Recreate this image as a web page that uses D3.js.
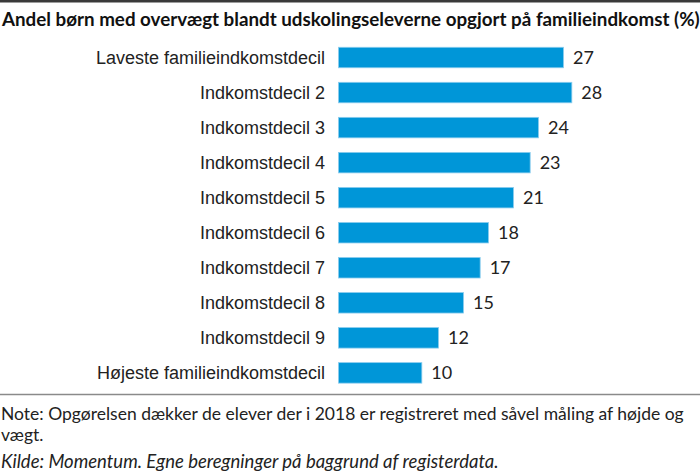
<!DOCTYPE html>
<html>
<head>
<meta charset="utf-8">
<script src="https://cdn.jsdelivr.net/npm/d3@7"></script>
<style>
  body { margin: 0; background: #fff; }
  svg { display: block; font-family: Lato, "Open Sans", sans-serif; }
  .cat { font-size: 18px; fill: #222; }
  .val { font-size: 18px; fill: #222; }
  .title { font-size: 18.8px; font-weight: bold; fill: #111; }
  .note { font-size: 17.5px; fill: #222; }
  .source { font-size: 18.5px; font-style: italic; fill: #222; }
</style>
</head>
<body>
<svg id="chart"></svg>
<script>
// chart data
const categories = [
  "Laveste familieindkomstdecil",
  "Indkomstdecil 2",
  "Indkomstdecil 3",
  "Indkomstdecil 4",
  "Indkomstdecil 5",
  "Indkomstdecil 6",
  "Indkomstdecil 7",
  "Indkomstdecil 8",
  "Indkomstdecil 9",
  "Højeste familieindkomstdecil"
];
const values = [27, 28, 24, 23, 21, 18, 17, 15, 12, 10];

const titleText = "Andel børn med overvægt blandt udskolingseleverne opgjort på familieindkomst (%)";
const noteLines = [
  "Note: Opgørelsen dækker de elever der i 2018 er registreret med såvel måling af højde og",
  "vægt."
];
const sourceText = "Kilde: Momentum. Egne beregninger på baggrund af registerdata.";

const width = 700, height = 474;
const margin = { top: 40, left: 338.5, bottom: 84 };

const svg = d3.select("#chart")
  .attr("width", width)
  .attr("height", height);

// top rule
svg.append("rect")
  .attr("x", 0).attr("y", 0)
  .attr("width", width).attr("height", 2.5)
  .attr("fill", "#3a3a3a");

svg.append("text")
  .attr("class", "title")
  .attr("x", 2)
  .attr("y", 26)
  .text(titleText);

const data = categories.map((c, i) => ({ cat: c, value: values[i] }));

// scales
const yScale = d3.scaleBand()
  .domain(categories)
  .range([margin.top, margin.top + 10 * 35.04])
  .paddingInner(0.415)
  .paddingOuter(0.2075);

const xScale = d3.scaleLinear()
  .domain([0, 30])
  .range([margin.left, margin.left + 250]);

// category labels via a left axis with no lines
const yAxis = d3.axisLeft(yScale).tickSize(0).tickPadding(0);
const yAxisG = svg.append("g")
  .attr("transform", `translate(${margin.left - 13.5},0)`)
  .call(yAxis);
yAxisG.select(".domain").remove();
yAxisG.selectAll("text")
  .attr("class", "cat")
  .attr("font-family", null)
  .attr("font-size", null)
  .attr("fill", null)
  .attr("dy", "0.35em");

// bars
svg.selectAll(".bar")
  .data(data)
  .enter()
  .append("rect")
  .attr("class", "bar")
  .attr("x", xScale(0))
  .attr("y", d => yScale(d.cat))
  .attr("width", d => xScale(d.value) - xScale(0))
  .attr("height", yScale.bandwidth())
  .attr("fill", "#0096d8")
  .attr("stroke", "#8ccdee")
  .attr("stroke-width", 0.8);

// value labels
svg.selectAll(".val")
  .data(data)
  .enter()
  .append("text")
  .attr("class", "val")
  .attr("x", d => xScale(d.value) + 9.5)
  .attr("y", d => yScale(d.cat) + yScale.bandwidth() / 2)
  .attr("dy", "0.35em")
  .text(d => d.value);

// bottom rule
svg.append("line")
  .attr("x1", 0).attr("x2", width)
  .attr("y1", 394.5).attr("y2", 394.5)
  .attr("stroke", "#8a8a8a")
  .attr("stroke-width", 1.3);

// notes
noteLines.forEach((t, i) => {
  svg.append("text")
    .attr("class", "note")
    .attr("x", 1)
    .attr("y", 420 + i * 21)
    .text(t);
});

svg.append("text")
  .attr("class", "source")
  .attr("x", 1)
  .attr("y", 468)
  .text(sourceText);
</script>
</body>
</html>
